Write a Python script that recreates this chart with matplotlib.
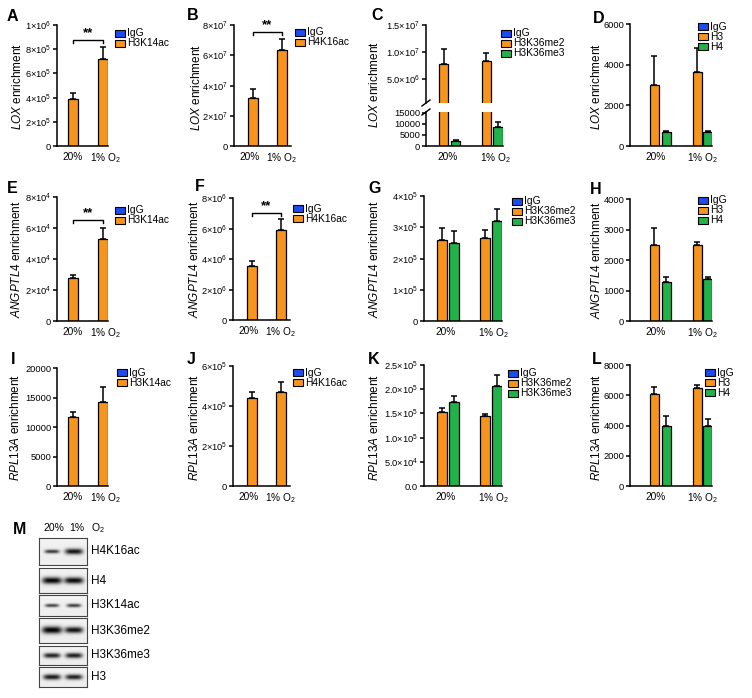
import numpy as np
import matplotlib
matplotlib.use('Agg')
import matplotlib.pyplot as plt
from matplotlib.patches import Rectangle
from matplotlib.lines import Line2D

plt.rcParams['font.family'] = ['Liberation Sans', 'DejaVu Sans']
plt.rcParams['mathtext.fontset'] = 'custom'
plt.rcParams['mathtext.rm'] = 'Liberation Sans'
plt.rcParams['mathtext.it'] = 'Liberation Sans:italic'
plt.rcParams['mathtext.bf'] = 'Liberation Sans:bold'

# ---------------- data ----------------
conditions = ['20%', '1% O$_2$']
igg_zero = [0, 0]

LOX_H3K14ac = [3.9e5, 7.2e5];      LOX_H3K14ac_err = [0.5e5, 1.0e5]
LOX_H4K16ac = [3.15e7, 6.35e7];    LOX_H4K16ac_err = [0.65e7, 0.75e7]
LOX_H3K36me2 = [7.7e6, 8.3e6];     LOX_H3K36me2_err = [2.8e6, 1.5e6]
LOX_H3K36me3 = [2200, 8500];       LOX_H3K36me3_err = [600, 2500]
LOX_H3 = [3000, 3650];             LOX_H3_err = [1450, 1150]
LOX_H4 = [680, 700];               LOX_H4_err = [70, 60]

ANGPTL4_H3K14ac = [2.8e4, 5.3e4];  ANGPTL4_H3K14ac_err = [0.2e4, 0.7e4]
ANGPTL4_H4K16ac = [3.55e6, 5.9e6]; ANGPTL4_H4K16ac_err = [0.3e6, 0.7e6]
ANGPTL4_H3K36me2 = [2.58e5, 2.67e5]; ANGPTL4_H3K36me2_err = [0.4e5, 0.25e5]
ANGPTL4_H3K36me3 = [2.5e5, 3.2e5];   ANGPTL4_H3K36me3_err = [0.38e5, 0.37e5]
ANGPTL4_H3 = [2500, 2480];         ANGPTL4_H3_err = [560, 120]
ANGPTL4_H4 = [1280, 1380];         ANGPTL4_H4_err = [160, 70]

RPL13A_H3K14ac = [11700, 14200];   RPL13A_H3K14ac_err = [800, 2600]
RPL13A_H4K16ac = [4.4e5, 4.7e5];   RPL13A_H4K16ac_err = [0.3e5, 0.5e5]
RPL13A_H3K36me2 = [1.52e5, 1.44e5]; RPL13A_H3K36me2_err = [0.1e5, 0.04e5]
RPL13A_H3K36me3 = [1.73e5, 2.06e5]; RPL13A_H3K36me3_err = [0.12e5, 0.24e5]
RPL13A_H3 = [6080, 6450];          RPL13A_H3_err = [470, 250]
RPL13A_H4 = [4000, 4000];          RPL13A_H4_err = [600, 400]

blot_names = ['H4K16ac', 'H4', 'H3K14ac', 'H3K36me2', 'H3K36me3', 'H3']
band_20 = [0.35, 0.95, 0.25, 1.0, 0.6, 0.7]
band_1 = [0.75, 0.9, 0.3, 0.8, 0.65, 0.65]

# ---------------- style ----------------
BLUE = '#1C4BF0'
ORANGE = '#F7941D'
GREEN = '#22B24A'

W, H = 752, 698
fig = plt.figure(figsize=(W / 100, H / 100), dpi=100)


def add_ax(x0, yt, x1, yb):
    return fig.add_axes([x0 / W, 1 - yb / H, (x1 - x0) / W, (yb - yt) / H])


def sci(m, e):
    return f"{m}×10$^{{{e}}}$"


def style(ax, xmax, ymin, ymax, yticks, yticklabels, tickpos=None, bottom=True):
    ax.set_xlim(0, xmax)
    ax.set_ylim(ymin, ymax)
    for s in ['top', 'right']:
        ax.spines[s].set_visible(False)
    ax.spines['left'].set_linewidth(1.1)
    ax.spines['bottom'].set_linewidth(1.1)
    if not bottom:
        ax.spines['bottom'].set_visible(False)
    ax.set_yticks(yticks)
    ax.set_yticklabels(yticklabels)
    ax.tick_params(axis='y', direction='out', length=3, width=1.1, labelsize=6.7, pad=1.2)
    ax.tick_params(axis='x', length=0, labelsize=7.3, pad=4)
    if tickpos is not None:
        ax.set_xticks(tickpos)
        ax.set_xticklabels(conditions)
    else:
        ax.set_xticks([])
    ax.patch.set_alpha(0)


def bars(ax, xs, vals, errs, color, width):
    ax.bar(xs, vals, width=width, color=color, edgecolor='black', linewidth=0.9, zorder=2)
    if errs is not None:
        ax.errorbar(xs, vals, yerr=[np.zeros(len(vals)), errs], fmt='none', ecolor='black',
                    elinewidth=1.1, capsize=2.5, capthick=1.1, zorder=3)


def legend(x, y0, labels, colors, pitch=10):
    for i, (lab, c) in enumerate(zip(labels, colors)):
        yc = y0 + i * pitch
        fig.patches.append(Rectangle((x / W, 1 - (yc + 3.5) / H), 10 / W, 7 / H,
                                     transform=fig.transFigure, facecolor=c,
                                     edgecolor='black', linewidth=0.8))
        fig.text((x + 12) / W, 1 - yc / H, lab, fontsize=7.4, va='center', ha='left')


def letter(x, y, s):
    fig.text(x / W, 1 - y / H, s, fontsize=11.5, fontweight='bold', va='top', ha='left')


def ylab(x, y, gene):
    fig.text(x / W, 1 - y / H, f"$\\it{{{gene}}}$ enrichment", rotation=90,
             fontsize=8.5, va='center', ha='center')


def sig(ax, x1, x2, y, ymax):
    d = 0.025 * ymax
    ax.add_line(Line2D([x1, x1, x2, x2], [y - d, y, y, y - d], color='black', lw=1.0,
                       clip_on=False))
    ax.text((x1 + x2) / 2, y + 0.005 * ymax, '**', ha='center', va='bottom',
            fontsize=9.5, fontweight='bold')


# column layouts (pixels within axes)
C0 = dict(xmax=51, igg=[6, 36], m=[16, 46], w=9.5, tick=[15.5, 48.5])
C1 = dict(xmax=57, igg=[9, 38], m=[19, 48], w=9.5, tick=[15.5, 48])
C2 = dict(xmax=78, igg=[6, 49], m2=[18, 61], m3=[30, 73], w=9.5, tick=[22, 70])
C3 = dict(xmax=82, igg=[12, 55], m2=[24, 67], m3=[36, 77.5], w=9, tick=[26, 73])


def two_panel(box, lay, ymax, yticks, ylabels, vals, errs, leg_label, leg_xy, sig_y=None):
    ax = add_ax(*box)
    style(ax, lay['xmax'], 0, ymax, yticks, ylabels, lay['tick'])
    bars(ax, lay['igg'], igg_zero, None, BLUE, lay['w'])
    bars(ax, lay['m'], vals, errs, ORANGE, lay['w'])
    legend(leg_xy[0], leg_xy[1], ['IgG', leg_label], [BLUE, ORANGE])
    if sig_y is not None:
        sig(ax, lay['m'][0], lay['m'][1], sig_y, ymax)
    return ax


def three_panel(box, lay, ymax, yticks, ylabels, v2, e2, v3, e3, labs, leg_xy):
    ax = add_ax(*box)
    style(ax, lay['xmax'], 0, ymax, yticks, ylabels, lay['tick'])
    bars(ax, lay['igg'], igg_zero, None, BLUE, lay['w'])
    bars(ax, lay['m2'], v2, e2, ORANGE, lay['w'])
    bars(ax, lay['m3'], v3, e3, GREEN, lay['w'])
    legend(leg_xy[0], leg_xy[1], ['IgG'] + labs, [BLUE, ORANGE, GREEN])
    return ax


# ---- Row 1: LOX ----
two_panel((57, 25, 108, 146), C0, 1e6, [0, 2e5, 4e5, 6e5, 8e5, 1e6],
          ['0', sci(2, 5), sci(4, 5), sci(6, 5), sci(8, 5), sci(1, 6)],
          LOX_H3K14ac, LOX_H3K14ac_err, 'H3K14ac', (115, 33.5), sig_y=8.76e5)
two_panel((234, 25, 291, 146), C1, 8e7, [0, 2e7, 4e7, 6e7, 8e7],
          ['0', sci(2, 7), sci(4, 7), sci(6, 7), sci(8, 7)],
          LOX_H4K16ac, LOX_H4K16ac_err, 'H4K16ac', (295, 32), sig_y=7.55e7)

# C: broken axis
axu = add_ax(426, 25, 503, 103)
style(axu, C2['xmax'], 5.6e5, 1.5e7, [5e6, 1e7, 1.5e7],
      [sci('5.0', 6), sci('1.0', 7), sci('1.5', 7)], None, bottom=False)
axl = add_ax(426, 112, 503, 146)
style(axl, C2['xmax'], 0, 15450, [0, 5000, 10000, 15000],
      ['0', '5000', '10000', '15000'], C2['tick'])
for a in (axu, axl):
    bars(a, C2['igg'], igg_zero, None, BLUE, C2['w'])
    bars(a, C2['m2'], LOX_H3K36me2, LOX_H3K36me2_err, ORANGE, C2['w'])
    bars(a, C2['m3'], LOX_H3K36me3, LOX_H3K36me3_err, GREEN, C2['w'])
legend(501, 33.5, ['IgG', 'H3K36me2', 'H3K36me3'], [BLUE, ORANGE, GREEN])
for (xa, ya, xb, yb) in [(422, 106, 430, 100), (422, 115, 430, 109)]:
    fig.add_artist(Line2D([xa / W, xb / W], [1 - ya / H, 1 - yb / H], color='black', lw=1.0,
                          transform=fig.transFigure))

three_panel((630, 24, 712, 146), C3, 6000, [0, 2000, 4000, 6000],
            ['0', '2000', '4000', '6000'], LOX_H3, LOX_H3_err, LOX_H4, LOX_H4_err,
            ['H3', 'H4'], (698, 26.5))

# ---- Row 2: ANGPTL4 ----
two_panel((57, 197, 108, 321), C0, 8e4, [0, 2e4, 4e4, 6e4, 8e4],
          ['0', sci(2, 4), sci(4, 4), sci(6, 4), sci(8, 4)],
          ANGPTL4_H3K14ac, ANGPTL4_H3K14ac_err, 'H3K14ac', (115, 210), sig_y=6.5e4)
two_panel((233, 198, 290, 320), C1, 8e6, [0, 2e6, 4e6, 6e6, 8e6],
          ['0', sci(2, 6), sci(4, 6), sci(6, 6), sci(8, 6)],
          ANGPTL4_H4K16ac, ANGPTL4_H4K16ac_err, 'H4K16ac', (293, 208.5), sig_y=7.0e6)
three_panel((424, 196, 502, 321), C2, 4e5, [0, 1e5, 2e5, 3e5, 4e5],
            ['0', sci(1, 5), sci(2, 5), sci(3, 5), sci(4, 5)],
            ANGPTL4_H3K36me2, ANGPTL4_H3K36me2_err, ANGPTL4_H3K36me3, ANGPTL4_H3K36me3_err,
            ['H3K36me2', 'H3K36me3'], (512, 201.5))
three_panel((630, 199, 712, 321), C3, 4000, [0, 1000, 2000, 3000, 4000],
            ['0', '1000', '2000', '3000', '4000'], ANGPTL4_H3, ANGPTL4_H3_err,
            ANGPTL4_H4, ANGPTL4_H4_err, ['H3', 'H4'], (698, 200))

# ---- Row 3: RPL13A ----
two_panel((57, 368, 108, 486), C0, 20000, [0, 5000, 10000, 15000, 20000],
          ['0', '5000', '10000', '15000', '20000'],
          RPL13A_H3K14ac, RPL13A_H3K14ac_err, 'H3K14ac', (117, 372.5))
two_panel((233, 366, 290, 486), C1, 6e5, [0, 2e5, 4e5, 6e5],
          ['0', sci(2, 5), sci(4, 5), sci(6, 5)],
          RPL13A_H4K16ac, RPL13A_H4K16ac_err, 'H4K16ac', (293, 372.5))
three_panel((424, 365, 502, 486), C2, 2.5e5, [0, 5e4, 1e5, 1.5e5, 2e5, 2.5e5],
            ['0.0', sci('5.0', 4), sci('1.0', 5), sci('1.5', 5), sci('2.0', 5), sci('2.5', 5)],
            RPL13A_H3K36me2, RPL13A_H3K36me2_err, RPL13A_H3K36me3, RPL13A_H3K36me3_err,
            ['H3K36me2', 'H3K36me3'], (508, 373.5))
three_panel((630, 365, 712, 486), C3, 8000, [0, 2000, 4000, 6000, 8000],
            ['0', '2000', '4000', '6000', '8000'], RPL13A_H3, RPL13A_H3_err,
            RPL13A_H4, RPL13A_H4_err, ['H3', 'H4'], (705, 372.5))

# letters and y labels
for (x, y, s) in [(7, 9, 'A'), (187, 8, 'B'), (371, 8, 'C'), (593, 11, 'D'),
                  (7, 181, 'E'), (195, 179, 'F'), (368, 181, 'G'), (590, 182, 'H'),
                  (11, 352, 'I'), (187, 352, 'J'), (368, 352, 'K'), (592, 352, 'L'),
                  (13, 522, 'M')]:
    letter(x, y, s)

for (x, y, g) in [(18, 87, 'LOX'), (196, 88, 'LOX'), (375, 85, 'LOX'), (597, 87, 'LOX'),
                  (17, 259, 'ANGPTL4'), (195, 259, 'ANGPTL4'), (374, 259, 'ANGPTL4'),
                  (597, 260, 'ANGPTL4'),
                  (16, 427, 'RPL13A'), (195, 427, 'RPL13A'), (374, 427, 'RPL13A'),
                  (597, 427, 'RPL13A')]:
    ylab(x, y, g)

# ---- M: western blot ----
fig.text(53.5 / W, 1 - 528 / H, '20%', fontsize=7.5, va='center', ha='center')
fig.text(77 / W, 1 - 528 / H, '1%', fontsize=7.5, va='center', ha='center')
fig.text(98 / W, 1 - 528 / H, 'O$_2$', fontsize=7.5, va='center', ha='center')

blot_rows = [(538, 565), (568, 593), (595, 616), (618, 643), (646, 665), (667, 687)]
lane_x = [52, 74]
for name, i20, i1, (yt, yb) in zip(blot_names, band_20, band_1, blot_rows):
    bax = add_ax(39, yt, 87, yb)
    w = 48
    h = yb - yt
    res = 4
    xx = np.linspace(0, w, w * res)
    yy = np.linspace(0, h, h * res)
    X, Y = np.meshgrid(xx, yy)
    img = 0.95 - 0.02 * (Y / h)
    for cx, inten in zip(lane_x, [i20, i1]):
        cx_rel = cx - 39
        L = 12 + 8 * inten
        T = 2.2 + 4.8 * inten
        band = np.exp(-np.abs((X - cx_rel) / (L / 2)) ** 4) * np.exp(-((Y - h / 2) / (T / 2)) ** 2)
        img = img - (0.6 + 0.35 * inten) * band
    bax.imshow(np.clip(img, 0, 1), cmap='gray', vmin=0, vmax=1, extent=[0, w, h, 0],
               aspect='auto', interpolation='bilinear')
    bax.set_xticks([])
    bax.set_yticks([])
    for s in bax.spines.values():
        s.set_linewidth(0.8)
        s.set_edgecolor('#444444')
    fig.text(91 / W, 1 - ((yt + yb) / 2) / H, name, fontsize=8.5, va='center', ha='left')

fig.savefig('out.png', dpi=100)
